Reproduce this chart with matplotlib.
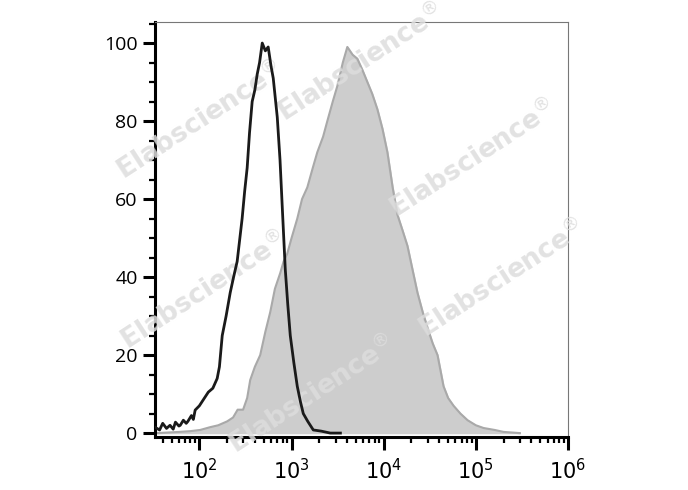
import numpy as np
import matplotlib
matplotlib.use("Agg")
import matplotlib.pyplot as plt
from matplotlib.ticker import LogLocator, MultipleLocator, FixedLocator

plt.rcParams['font.family'] = ['Open Sans', 'DejaVu Sans']

# control (black outline) histogram
ctrl_x = [33, 37, 40, 44, 48, 52, 55, 60, 62, 67, 72, 75, 82, 86, 90, 100, 110,
          125, 140, 156, 165, 177, 195, 216, 235, 257, 275, 291, 310, 330, 350,
          374, 400, 424, 450, 481, 520, 558, 600, 633, 700, 750, 793, 855, 910,
          969, 1060, 1154, 1250, 1341, 1500, 1722, 2100, 2634, 3390]
ctrl_y = [1.5, 0.8, 2.5, 1.2, 2.0, 1.0, 2.8, 1.8, 2.0, 3.3, 2.5, 3.0, 4.5, 3.5,
          5.9, 7.0, 8.5, 10.5, 11.5, 14, 17, 25, 30, 36, 40, 44, 50, 55, 62, 68,
          77, 85, 88, 92, 95, 100, 98, 99, 94, 91, 81, 70, 58, 42, 33, 25, 18,
          12, 8, 5, 3, 0.8, 0.5, 0, 0]

# stained sample (grey filled) histogram
samp_x = [35, 60, 80, 102, 130, 160, 200, 232, 260, 298, 330, 356, 400, 457,
          520, 587, 660, 753, 820, 898, 1000, 1154, 1300, 1483, 1700, 1903, 2200,
          2445, 2800, 3140, 3600, 4030, 4600, 5175, 5900, 6650, 7500, 8545, 9700,
          10970, 12500, 14090, 16000, 18100, 20500, 23250, 26500, 29880, 34000,
          38370, 44600, 50000, 57300, 68000, 81300, 100000, 121300, 160000, 200000,
          300000]
samp_y = [0, 0.3, 0.5, 0.8, 1.5, 2.0, 3.0, 4.0, 6.0, 6.0, 9.0, 13.6, 17, 20,
          26, 31, 37, 41, 44, 46, 50, 55, 60, 63, 68, 72, 76, 80, 85, 89,
          95, 99, 97, 96, 93, 90, 87, 83, 78, 72, 63, 56, 52, 48, 42, 36, 31,
          27, 23, 20, 12, 9, 7, 5, 3.3, 2.0, 1.3, 0.8, 0.3, 0]

# watermark positions (axes fraction)
wm_x = [0.50, 0.77, 0.11, 0.84, 0.12, 0.38]
wm_y = [0.90, 0.67, 0.76, 0.38, 0.35, 0.10]

fig = plt.figure(figsize=(6.88, 4.90), dpi=100)
ax = fig.add_axes([0.2253, 0.1082, 0.6003, 0.8469])

ax.fill_between(samp_x, samp_y, 0, color='#cdcdcd', zorder=1)
ax.plot(samp_x, samp_y, color='#a9a9a9', lw=1.5, zorder=2)

for wx, wy in zip(wm_x, wm_y):
    ax.text(wx, wy, 'Elabscience$^{\u00ae}$', transform=ax.transAxes, rotation=33,
            ha='center', va='center', fontsize=19, color='#dddddd', alpha=0.85,
            family='DejaVu Sans', weight='bold', zorder=3)

ax.plot(ctrl_x, ctrl_y, color='#1a1a1a', lw=2.0, zorder=4)

ax.set_xscale('log')
ax.set_xlim(33, 1e6)
ax.set_ylim(-1.0, 105.4)

ax.xaxis.set_major_locator(FixedLocator([1e2, 1e3, 1e4, 1e5, 1e6]))
ax.xaxis.set_minor_locator(LogLocator(base=10, subs=np.arange(2, 10)))
ax.set_xticklabels(['$10^{2}$', '$10^{3}$', '$10^{4}$', '$10^{5}$', '$10^{6}$'])
ax.yaxis.set_major_locator(MultipleLocator(20))
ax.yaxis.set_minor_locator(MultipleLocator(5))

ax.tick_params(axis='both', which='major', length=9, width=2.2, labelsize=14,
               color='black', direction='out')
ax.tick_params(axis='both', which='minor', length=4.5, width=1.6,
               color='black', direction='out')
ax.tick_params(axis='x', which='major', pad=7, labelsize=15)

for s in ['left', 'bottom']:
    ax.spines[s].set_linewidth(2.2)
    ax.spines[s].set_color('black')
for s in ['top', 'right']:
    ax.spines[s].set_linewidth(0.8)
    ax.spines[s].set_color('#777777')

fig.savefig('out.png', dpi=100)
